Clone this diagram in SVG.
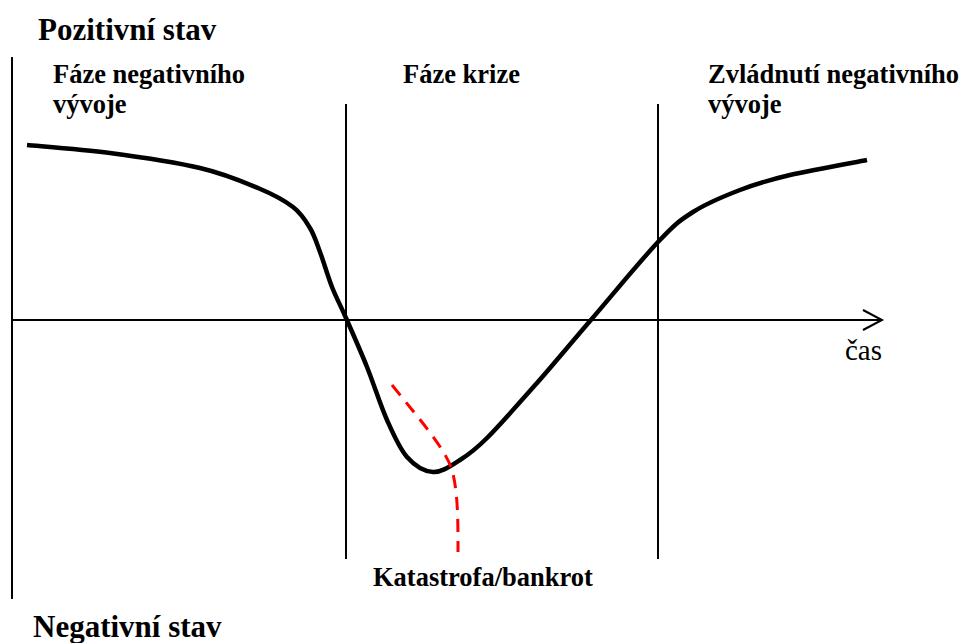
<svg xmlns="http://www.w3.org/2000/svg" width="962" height="643" viewBox="0 0 962 643">
<style>
.ax{stroke:#000;stroke-width:2;fill:none}
.curve{stroke:#000;stroke-width:4.5;fill:none;stroke-linejoin:round}
.dash{stroke:#ff0000;stroke-width:3;fill:none;stroke-dasharray:13 9}
.b{font-family:"Liberation Serif","DejaVu Serif",serif;font-weight:bold;fill:#000}
.r{font-family:"Liberation Serif","DejaVu Serif",serif;fill:#000}
</style>
<rect width="962" height="643" fill="#fff"/>
<g id="connectors">
<line class="ax" x1="12" y1="57" x2="12" y2="599"/>
<line class="ax" x1="12" y1="320" x2="882" y2="320"/>
<polyline class="ax" points="863,310 882,320 863,330"/>
<line class="ax" x1="346" y1="104" x2="346" y2="559"/>
<line class="ax" x1="658" y1="104" x2="658" y2="559"/>
<path id="curve" class="curve" d="M27,145 C40.8,146.3 81.2,149.2 110,153 C138.8,156.8 175.3,162.2 200,168 C224.7,173.8 242.5,181.5 258,188 C273.5,194.5 284.3,200.3 293,207 C301.7,213.7 305.5,220.5 310,228 C314.5,235.5 316.3,242.2 320,252 C323.7,261.8 327.7,276 332,287 C336.3,298 340.2,304.7 346,318 C351.8,331.3 360.2,350 367,367 C373.8,384 380.3,405 387,420 C393.7,435 399.3,448.3 407,457 C414.7,465.7 424.2,471.5 433,472 C441.8,472.5 451,465.7 460,460 C469,454.3 474.2,450.8 487,438 C499.8,425.2 519.8,402.5 537,383 C554.2,363.5 569.8,344.5 590,321 C610.2,297.5 640.8,260.2 658,242 C675.2,223.8 679.3,220.7 693,212 C706.7,203.3 723.8,196.2 740,190 C756.2,183.8 768.8,180 790,175 C811.2,170 854.2,162.5 867,160"/>
<path id="bankrot-line" class="dash" d="M392,385 C420,420 445,448 452,470 C458,492 458,520 458,552"/>
</g>
<g id="positive"><text class="b" x="38" y="40" font-size="31">Pozitivní stav</text></g>
<g id="negative"><text class="b" x="33" y="637" font-size="31">Negativní stav</text></g>
<g id="phase1"><text class="b" x="53" y="83" font-size="26.5">Fáze negativního</text><text class="b" x="53" y="113" font-size="26.5">vývoje</text></g>
<g id="phase2"><text class="b" x="403" y="83" font-size="26.5">Fáze krize</text></g>
<g id="phase3"><text class="b" x="708" y="83" font-size="26.5">Zvládnutí negativního</text><text class="b" x="708" y="113" font-size="26.5">vývoje</text></g>
<g id="katastrofa"><text class="b" x="373" y="586" font-size="26.5">Katastrofa/bankrot</text></g>
<g id="cas"><text class="r" x="845" y="360" font-size="29">čas</text></g>
</svg>
